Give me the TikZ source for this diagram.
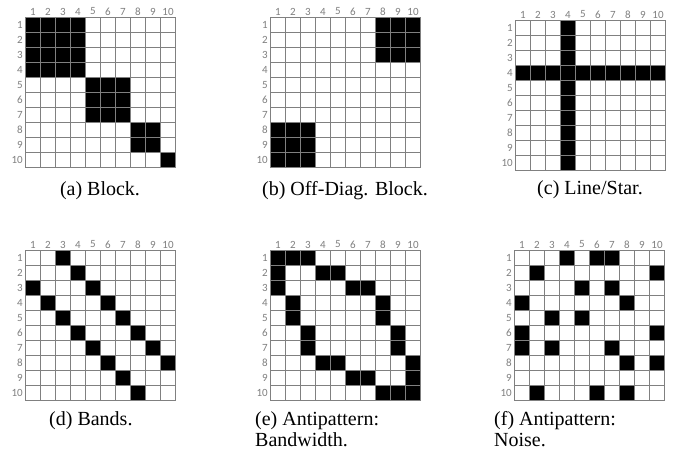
\documentclass[tikz,border=0pt]{standalone}
\usepackage{fontspec}
\setmainfont{Liberation Serif}
\newfontfamily\capfont{Liberation Serif}
\newfontfamily\lblfont{Carlito}
\definecolor{gridgray}{HTML}{808080}
\definecolor{lblgray}{HTML}{7F7F7F}
\def\cellsz{15}
\newcommand\matgrid[4]{%
  \begin{scope}[shift={(#2,#3)}]
    \foreach \ra/\ca/\rb/\cb in {#4} {
      \fill[black] ({(\ca-1)*\cellsz},{(\ra-1)*\cellsz}) rectangle ({\cb*\cellsz},{\rb*\cellsz});
    }
    \foreach \i in {0,...,10} {
      \draw[gridline] ({\i*\cellsz},0) -- ({\i*\cellsz},{10*\cellsz});
      \draw[gridline] (0,{\i*\cellsz}) -- ({10*\cellsz},{\i*\cellsz});
    }
    \foreach \i in {1,...,10} {
      \node[lbl] (#1c\i) at ({\i*\cellsz-\cellsz/2},-6) {\i};
      \node[lbl,anchor=east] (#1r\i) at (-2.5,{\i*\cellsz-\cellsz/2}) {\i};
    }
  \end{scope}}
\begin{document}
\begin{tikzpicture}[x=1pt,y=-1pt,
  gridline/.style={draw=gridgray,line width=1.2pt,line cap=rect},
  lbl/.style={font=\lblfont\fontsize{11}{12}\selectfont,text=lblgray,inner sep=0pt},
  captc/.style={font=\capfont\fontsize{20}{21}\selectfont,inner sep=0pt,anchor=base},
  captl/.style={captc,anchor=base west}]
\useasboundingbox (0,0) rectangle (673,462);
\fill[white] (0,0) rectangle (673,462);
% (a) Block
\matgrid{a}{25.5}{17.5}{1/1/4/4,5/5/7/7,8/8/9/9,10/10/10/10}
\node[captc] (capa) at (100,196) {(a) Block.};
% (b) Off-Diag. Block
\matgrid{b}{270.5}{17.5}{1/8/3/10,8/1/10/3}
\node[captc] (capb) at (345,196) {(b) Off-Diag. Block.};
% (c) Line/Star
\matgrid{c}{515.5}{20.5}{1/4/10/4,4/1/4/10}
\node[captc] (capc) at (590,195) {(c) Line/Star.};
% (d) Bands
\matgrid{d}{25.5}{250.5}{1/3/1/3,2/4/2/4,3/1/3/1,3/5/3/5,4/2/4/2,4/6/4/6,5/3/5/3,5/7/5/7,6/4/6/4,6/8/6/8,7/5/7/5,7/9/7/9,8/6/8/6,8/10/8/10,9/7/9/7,10/8/10/8}
\node[captl] (capd) at (49,426) {(d) Bands.};
% (e) Antipattern: Bandwidth
\matgrid{e}{270.5}{250.5}{1/1/1/3,2/1/3/1,2/4/2/5,3/6/3/7,4/2/5/2,4/8/5/8,6/3/7/3,6/9/7/9,8/4/8/5,9/6/9/7,8/10/10/10,10/8/10/9}
\node[captl] (cape1) at (255,426) {(e) Antipattern:};
\node[captl] (cape2) at (255,447) {Bandwidth.};
% (f) Antipattern: Noise
\matgrid{f}{514.5}{250.5}{1/4/1/4,1/6/1/7,2/2/2/2,2/10/2/10,3/5/3/5,3/7/3/7,4/1/4/1,4/8/4/8,5/3/5/3,5/5/5/5,6/1/7/1,6/10/6/10,7/3/7/3,7/7/7/7,8/8/8/8,8/10/8/10,10/2/10/2,10/6/10/6,10/8/10/8}
\node[captl] (capf1) at (494,426) {(f) Antipattern:};
\node[captl] (capf2) at (494,447) {Noise.};
\end{tikzpicture}
\end{document}
